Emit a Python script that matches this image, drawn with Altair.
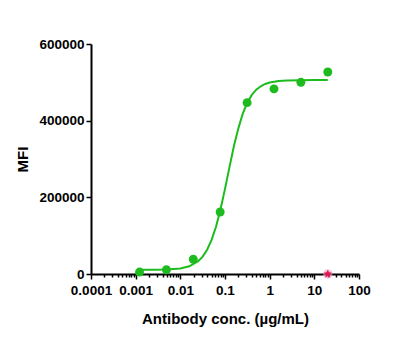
import altair as alt
import pandas as pd

# Measured data points (antibody concentration in ug/mL, MFI)
conc = [0.00122, 0.00488, 0.0195, 0.078, 0.3125, 1.25, 5.0, 20.0]
mfi = [5000, 11000, 38500, 161700, 447000, 483000, 500000, 527000]

# Fitted curve
curve_x = [0.0012, 0.0025, 0.005, 0.01, 0.0158, 0.0251, 0.0316, 0.0398, 0.0501,
           0.0631, 0.0794, 0.1, 0.126, 0.158, 0.2, 0.251, 0.316, 0.398, 0.501,
           0.631, 0.794, 1.0, 1.58, 2.51, 5.01, 10.0, 20.0]
curve_y = [11050, 11230, 11920, 14650, 20070, 33170, 45250, 63170, 88860,
           124000, 169000, 222000, 278700, 333300, 381000, 419000, 447300,
           467200, 480900, 489800, 495700, 499400, 503400, 504900, 505700,
           505900, 506000]

# Control point (star)
ctrl_x = [20.0]
ctrl_y = [0]

# Axis ticks
major_ticks = [0.0001, 0.001, 0.01, 0.1, 1, 10, 100]
minor_mult = [2, 3, 4, 5, 6, 7, 8, 9]
x_ticks = list(major_ticks)
for d in major_ticks[:-1]:
    for m in minor_mult:
        x_ticks.append(round(d * m, 6))
y_ticks = [0, 200000, 400000, 600000]

GREEN = "#1dbb1d"
FONT = "Liberation Sans"

pts = pd.DataFrame({"x": conc, "y": mfi})
crv = pd.DataFrame({"x": curve_x, "y": curve_y})
ctl = pd.DataFrame({"x": ctrl_x, "y": ctrl_y})

is_decade = "abs(log(datum.value)/LN10 - round(log(datum.value)/LN10)) < 1e-6"

x_scale = alt.Scale(type="log", domain=[0.0001, 100], nice=False)
y_scale = alt.Scale(domain=[0, 600000], nice=False)

x_axis = alt.Axis(
    title="Antibody conc. (µg/mL)",
    values=x_ticks,
    format="~g",
    labelExpr=f"({is_decade}) ? datum.label : ''",
    tickSize={"condition": {"test": is_decade, "value": 5}, "value": 3},
    grid=False,
    labelFlush=False,
    labelOverlap=False,
)
y_axis = alt.Axis(
    title="MFI",
    values=y_ticks,
    format="d",
    grid=False,
    tickSize=5,
)

line = alt.Chart(crv).mark_line(color=GREEN, strokeWidth=2).encode(
    x=alt.X("x:Q", scale=x_scale, axis=x_axis),
    y=alt.Y("y:Q", scale=y_scale, axis=y_axis),
)
dots = alt.Chart(pts).mark_circle(color=GREEN, size=80, opacity=1).encode(
    x=alt.X("x:Q", scale=x_scale),
    y=alt.Y("y:Q", scale=y_scale),
)
halo = alt.Chart(ctl).mark_point(shape="circle", filled=True, color="#f49ac8",
                                  size=90, opacity=0.6).encode(
    x=alt.X("x:Q", scale=x_scale),
    y=alt.Y("y:Q", scale=y_scale),
)
star = alt.Chart(ctl).mark_point(shape="M0,-1L0.29,-0.4L0.95,-0.31L0.48,0.15L0.59,0.81L0,0.5L-0.59,0.81L-0.48,0.15L-0.95,-0.31L-0.29,-0.4Z",
                                 filled=True, color="#e0184f", size=70, opacity=1).encode(
    x=alt.X("x:Q", scale=x_scale),
    y=alt.Y("y:Q", scale=y_scale),
)

chart = alt.layer(line, dots, halo, star).properties(
    width=268, height=230,
    autosize=alt.AutoSizeParams(type="none"),
    padding={"left": 91, "top": 44, "right": 40, "bottom": 86},
).configure_view(stroke=None).configure_axis(
    domainColor="black", domainWidth=2, tickColor="black", tickWidth=1.5,
    labelFont=FONT, labelFontWeight="bold", labelFontSize=13.5, labelColor="black",
    titleFont=FONT, titleFontWeight="bold", titleFontSize=15, titleColor="black",
).configure_axisX(labelPadding=4, titlePadding=15).configure_axisY(
    labelPadding=2, titlePadding=8)

chart.save("out.html", embed_options={"renderer": "svg", "actions": False})
